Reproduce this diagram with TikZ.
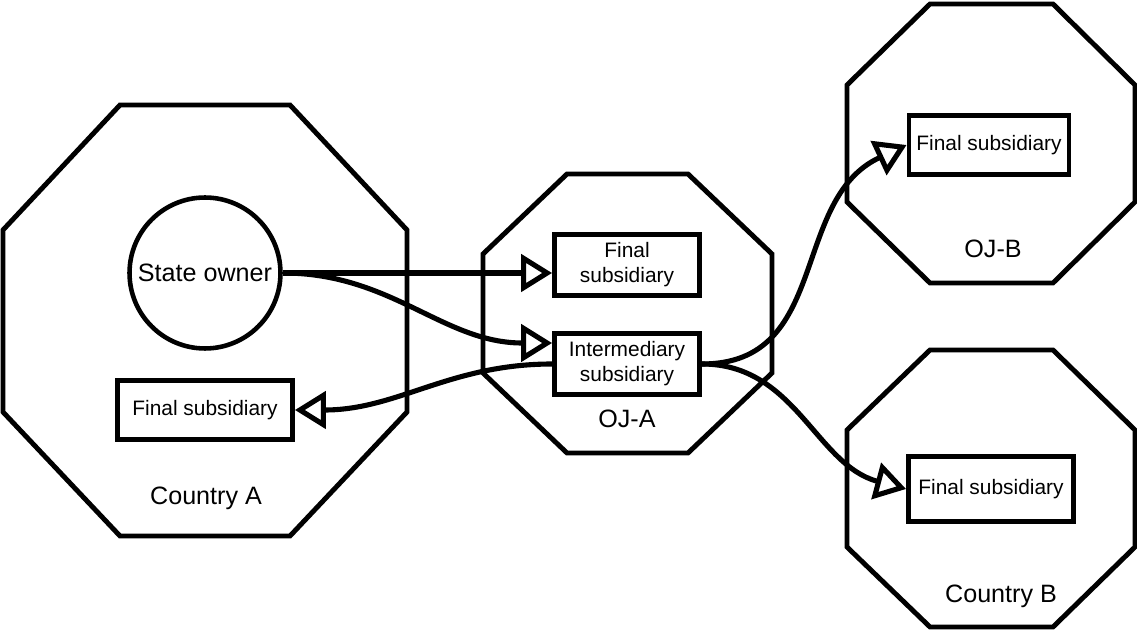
\documentclass[tikz,border=0pt]{standalone}
\usepackage{fontspec}
\setmainfont{Liberation Sans}
\usetikzlibrary{calc}
\usetikzlibrary{arrows.meta}
\usetikzlibrary{positioning}

\tikzset{
  jurisdiction/.style={line width=2.8pt, line join=miter},
  entity/.style={draw, rectangle, line width=2.8pt, inner sep=0pt, align=center,
    font=\fontsize{11.9pt}{14.2pt}\selectfont},
  owner/.style={draw, circle, line width=2.6pt, inner sep=0pt, minimum size=3.02cm,
    font=\fontsize{14.3pt}{17pt}\selectfont},
  region/.style={anchor=base, inner sep=0pt, font=\fontsize{14.3pt}{17pt}\selectfont},
  holds/.style={line width=2.9pt, -{Triangle[open, length=0.62cm, width=0.74cm]}}
}

\begin{document}
\begin{tikzpicture}[x=0.02cm, y=0.02cm]
  \useasboundingbox (0,0) rectangle (1137,-631);

  % jurisdictions
  \draw[jurisdiction] (120,-105) -- (290,-105) -- (407,-230) -- (407,-412)
    -- (290,-536) -- (120,-536) -- (3,-412) -- (3,-230) -- cycle;
  \draw[jurisdiction] (567,-174) -- (688,-174) -- (772,-254) -- (772,-373)
    -- (688,-453) -- (567,-453) -- (483,-373) -- (483,-254) -- cycle;
  \draw[jurisdiction] (930,-4) -- (1053,-4) -- (1135,-85) -- (1135,-202)
    -- (1053,-283) -- (930,-283) -- (847,-202) -- (847,-85) -- cycle;
  \draw[jurisdiction] (930,-350) -- (1053,-350) -- (1135,-430) -- (1135,-547)
    -- (1053,-627) -- (930,-627) -- (847,-547) -- (847,-430) -- cycle;

  \node[region] (lblA)   at (206,-505)  {Country A};
  \node[region] (lblOJA) at (627,-428)  {OJ-A};
  \node[region] (lblOJB) at (993,-258)  {OJ-B};
  \node[region] (lblB)   at (1001,-603) {Country B};

  % entities
  \node[owner] (owner) at (205,-273) {State owner};
  \node[entity, minimum width=3.5cm, minimum height=1.18cm] (subA) at (205,-410)
    {Final subsidiary};
  \node[entity, minimum width=2.9cm, minimum height=1.22cm] (subOJA) at (627,-265)
    {Final\\subsidiary};
  \node[entity, minimum width=2.9cm, minimum height=1.22cm] (inter) at (627,-364)
    {Intermediary\\subsidiary};
  \node[entity, minimum width=3.2cm, minimum height=1.18cm] (subOJB) at (989,-145)
    {Final subsidiary};
  \node[entity, minimum width=3.3cm, minimum height=1.3cm] (subB) at (991,-489)
    {Final subsidiary};

  % ownership links
  \draw[holds] (owner.east) -- (owner.east -| subOJA.west);
  \draw[holds] (owner.east) to[out=0, in=180] ([yshift=0.42cm]inter.west);
  \draw[holds] (inter.west) to[out=180, in=0] (subA.east);
  \draw[holds] (inter.east) to[out=0, in=205, looseness=1.1] (subOJB.west);
  \draw[holds] (inter.east) to[out=0, in=165] (subB.west);
\end{tikzpicture}
\end{document}
